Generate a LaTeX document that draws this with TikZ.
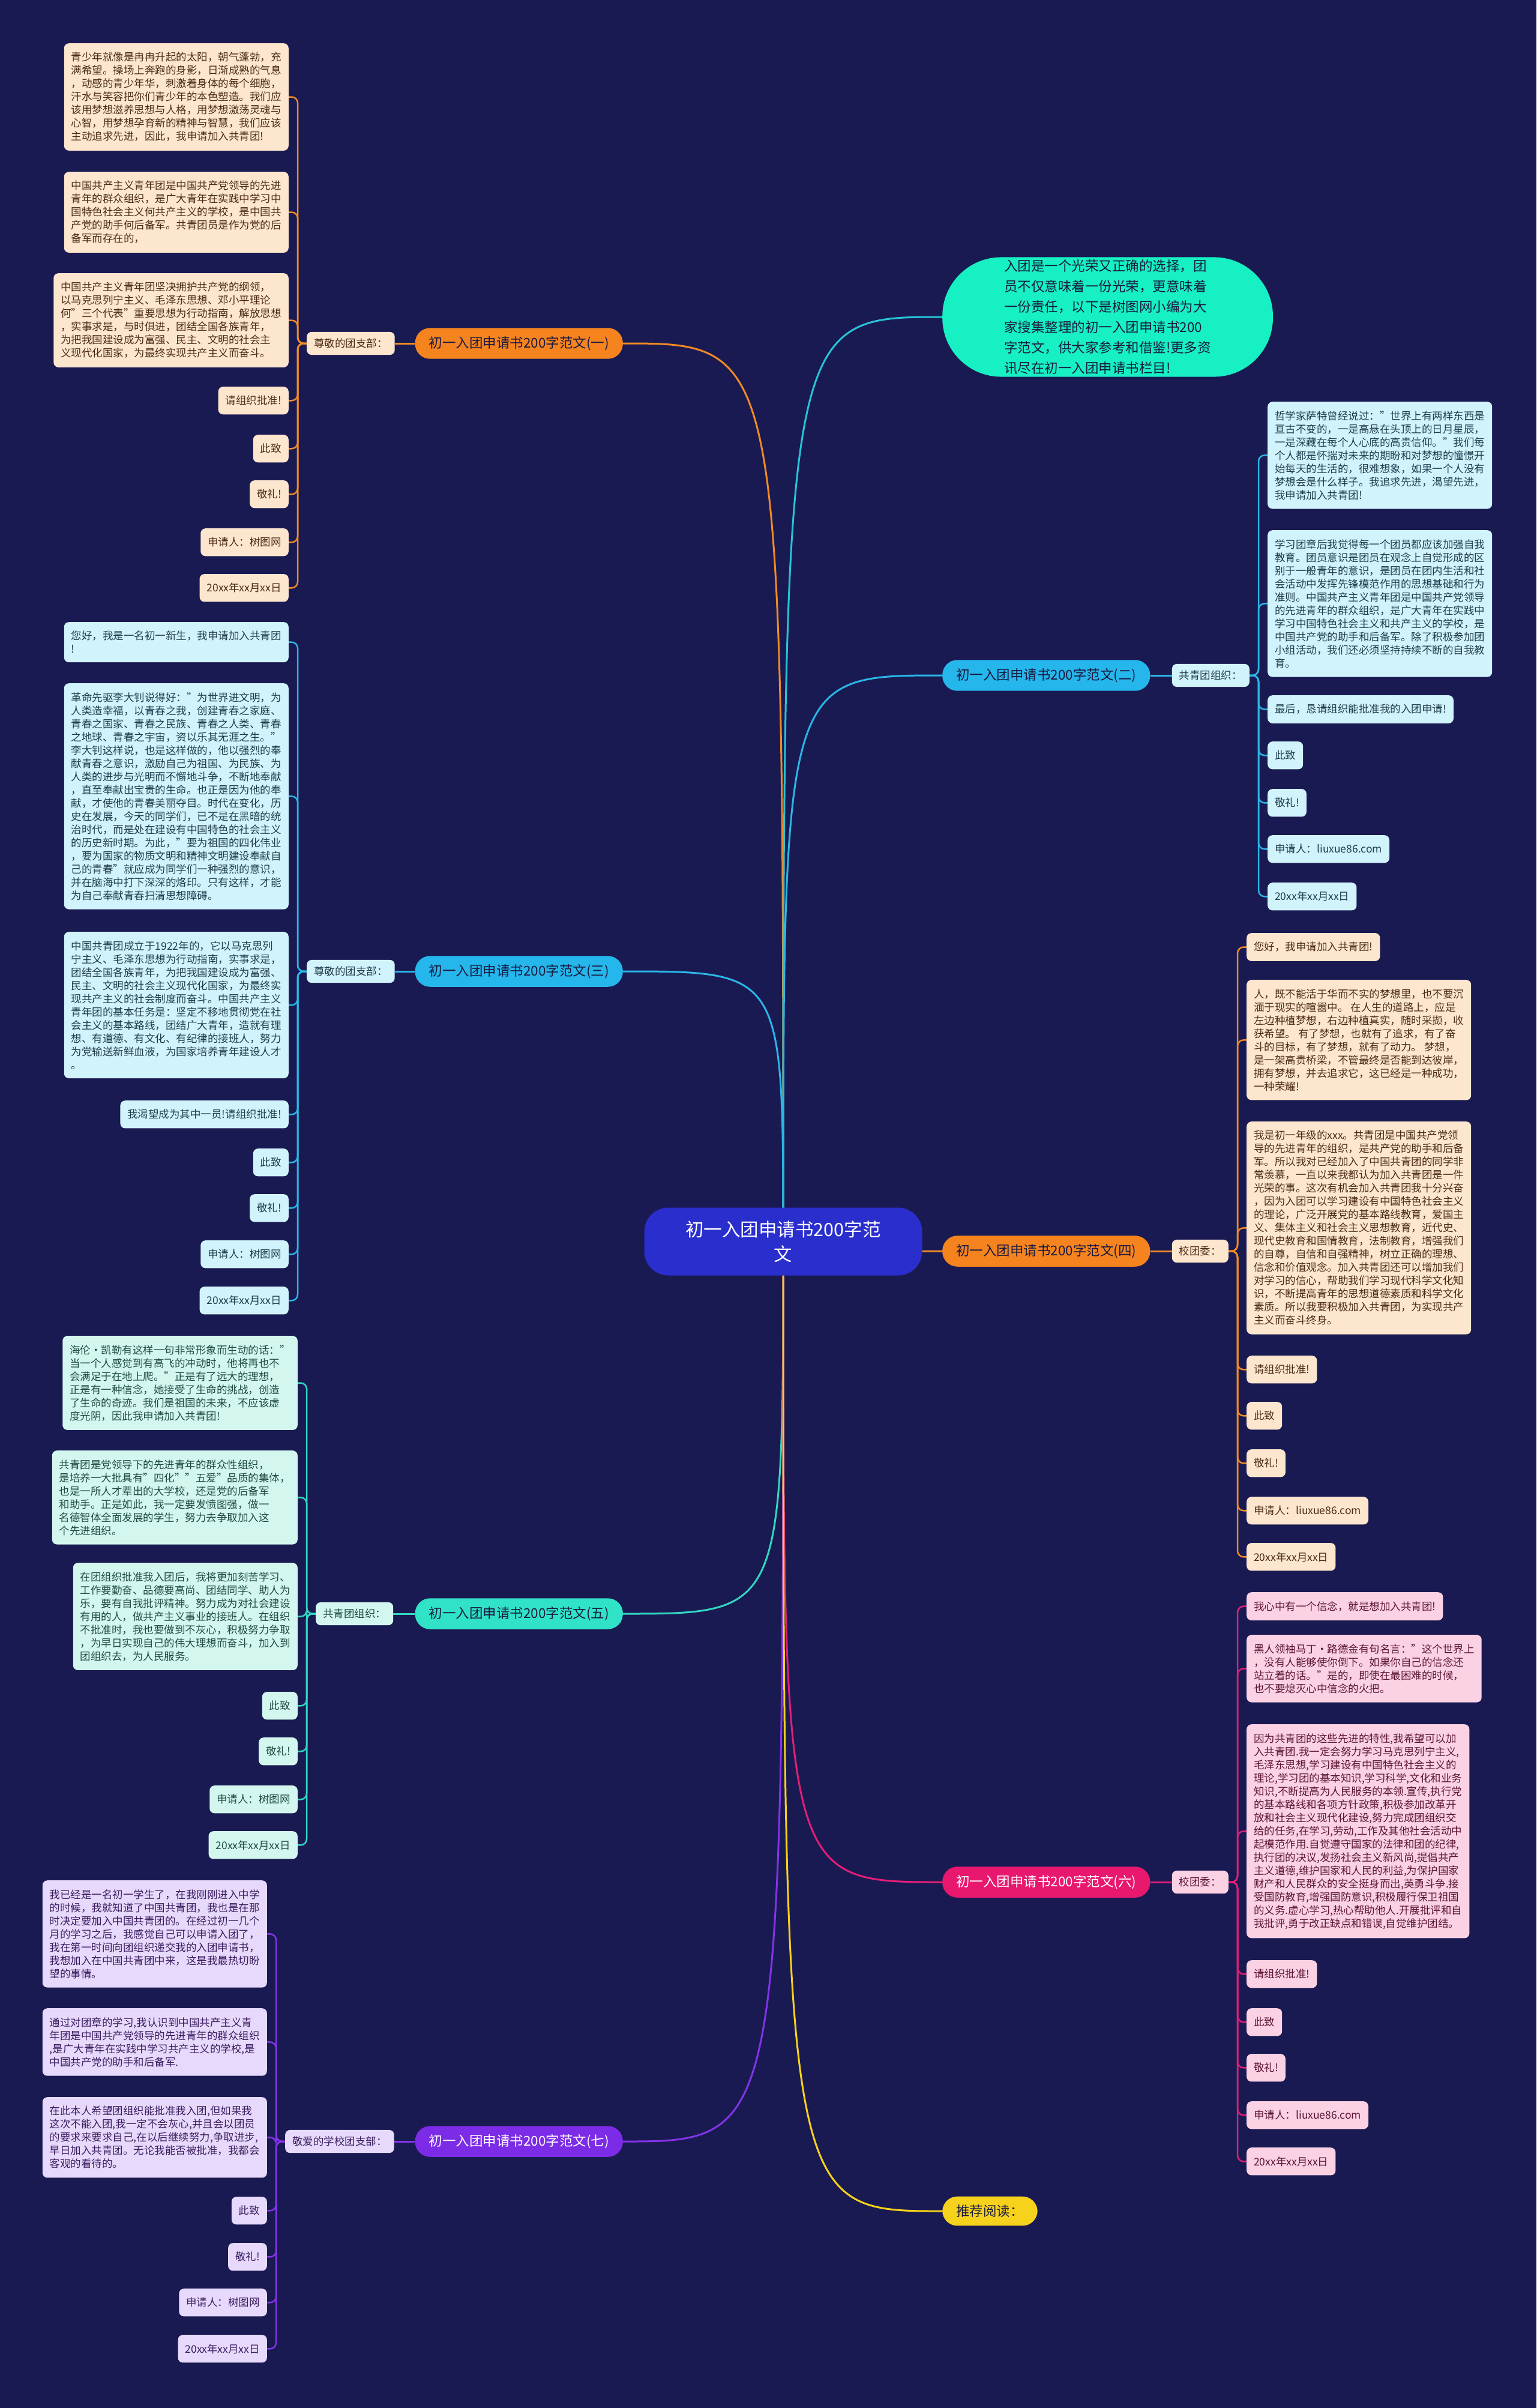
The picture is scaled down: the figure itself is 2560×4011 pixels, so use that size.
\documentclass[tikz,border=0pt]{standalone}
\usepackage{fontspec}
\setmainfont{Noto Sans CJK SC}

\definecolor{bgc}{HTML}{1A1A52}
\definecolor{rootc}{HTML}{2A2ECC}
\definecolor{darkT}{HTML}{1A1A40}
\definecolor{ora}{HTML}{F5841F}
\definecolor{oraW}{HTML}{F08A24}
\definecolor{oraL}{HTML}{FDE6CE}
\definecolor{oraT}{HTML}{4A2A12}
\definecolor{cya}{HTML}{25B6EC}
\definecolor{cyaW}{HTML}{2AB6E6}
\definecolor{cyaL}{HTML}{D1F3FC}
\definecolor{cyaT}{HTML}{1E3C4C}
\definecolor{aqu}{HTML}{30E3C6}
\definecolor{aquW}{HTML}{32D6C2}
\definecolor{aquL}{HTML}{D3F7EF}
\definecolor{aquT}{HTML}{1E4A42}
\definecolor{pur}{HTML}{7C2BE6}
\definecolor{purW}{HTML}{8433E8}
\definecolor{purL}{HTML}{E6D9FB}
\definecolor{purT}{HTML}{3C1E60}
\definecolor{mag}{HTML}{E8186F}
\definecolor{magW}{HTML}{E21E78}
\definecolor{magL}{HTML}{FBD1E4}
\definecolor{magT}{HTML}{5A1434}
\definecolor{yel}{HTML}{F6D21C}
\definecolor{teal}{HTML}{17F0C2}
\definecolor{tealW}{HTML}{27C4D6}

\newcommand\leaffont{\fontsize{17.5}{22}\selectfont}
\newcommand\branchfont{\fontsize{22.5}{28}\selectfont}
\newcommand\rootfont{\fontsize{30.5}{41}\selectfont}
\newcommand\introfont{\fontsize{22.5}{34}\selectfont}

\pgfdeclarelayer{back}
\pgfdeclarelayer{wires}
\pgfsetlayers{back,wires,main}

\begin{document}
\begin{tikzpicture}[x=1pt, y=-1pt,
  leaf/.style={rounded corners=8pt, inner xsep=12pt, inner ysep=15pt, align=left, font=\leaffont},
  lp/.style={leaf, anchor=north east},
  rp/.style={leaf, anchor=north west},
  tag/.style={leaf, inner ysep=11pt},
  branch/.style={rounded corners=25pt, inner xsep=23pt, inner ysep=14pt, font=\branchfont},
  stem/.style={line width=3pt},
  twig/.style={line width=2.5pt, rounded corners=10pt},
  g1/.style={fill=oraL, text=oraT},
  g2/.style={fill=cyaL, text=cyaT},
  g5/.style={fill=aquL, text=aquT},
  g6/.style={fill=magL, text=magT},
  g7/.style={fill=purL, text=purT}]
  \useasboundingbox (0,0) rectangle (2560,4011);
  \begin{pgfonlayer}{back}
    \fill[bgc] (0,0) rectangle (2560,4011);
  \end{pgfonlayer}

  \node[fill=rootc, text=white, rounded corners=40pt, minimum width=463pt, minimum height=113pt, align=center, font=\rootfont] (root) at (1305,2068) {初一入团申请书200字范\\文};

  \node[fill=teal, text=darkT, rounded corners=98pt, inner xsep=103pt, inner ysep=4pt, align=left, font=\introfont, anchor=west] (intro) at (1570,528) {入团是一个光荣又正确的选择，团\\员不仅意味着一份光荣，更意味着\\一份责任，以下是树图网小编为大\\家搜集整理的初一入团申请书200\\字范文，供大家参考和借鉴!更多资\\讯尽在初一入团申请书栏目!};

  % left side
  \node[branch, fill=ora, text=darkT, anchor=east] (br1) at (1038,572) {初一入团申请书200字范文(一)};
  \node[tag, g1, anchor=west] (lb1) at (511,572) {尊敬的团支部：};
  \node[lp, g1] (p1-1) at (481,72) {青少年就像是冉冉升起的太阳，朝气蓬勃，充\\满希望。操场上奔跑的身影，日渐成熟的气息\\，动感的青少年华，刺激着身体的每个细胞，\\汗水与笑容把你们青少年的本色塑造。我们应\\该用梦想滋养思想与人格，用梦想激荡灵魂与\\心智，用梦想孕育新的精神与智慧，我们应该\\主动追求先进，因此，我申请加入共青团!};
  \node[lp, g1] (p1-2) at (481,286) {中国共产主义青年团是中国共产党领导的先进\\青年的群众组织，是广大青年在实践中学习中\\国特色社会主义何共产主义的学校，是中国共\\产党的助手何后备军。共青团员是作为党的后\\备军而存在的，};
  \node[lp, g1] (p1-3) at (481,455) {中国共产主义青年团坚决拥护共产党的纲领，\\以马克思列宁主义、毛泽东思想、邓小平理论\\何"三个代表"重要思想为行动指南，解放思想\\，实事求是，与时俱进，团结全国各族青年，\\为把我国建设成为富强、民主、文明的社会主\\义现代化国家，为最终实现共产主义而奋斗。};
  \node[lp, g1] (p1-4) at (481,644) {请组织批准!};
  \node[lp, g1] (p1-5) at (481,724) {此致};
  \node[lp, g1] (p1-6) at (481,800) {敬礼!};
  \node[lp, g1] (p1-7) at (481,880) {申请人：树图网};
  \node[lp, g1] (p1-8) at (481,956) {20xx年xx月xx日};

  \node[branch, fill=cya, text=darkT, anchor=east] (br3) at (1038,1618) {初一入团申请书200字范文(三)};
  \node[tag, g2, anchor=west] (lb3) at (511,1618) {尊敬的团支部：};
  \node[lp, g2] (p3-1) at (481,1036) {您好，我是一名初一新生，我申请加入共青团\\!};
  \node[lp, g2] (p3-2) at (481,1138) {革命先驱李大钊说得好："为世界进文明，为\\人类造幸福，以青春之我，创建青春之家庭、\\青春之国家、青春之民族、青春之人类、青春\\之地球、青春之宇宙，资以乐其无涯之生。"\\李大钊这样说，也是这样做的，他以强烈的奉\\献青春之意识，激励自己为祖国、为民族、为\\人类的进步与光明而不懈地斗争，不断地奉献\\，直至奉献出宝贵的生命。也正是因为他的奉\\献，才使他的青春美丽夺目。时代在变化，历\\史在发展，今天的同学们，已不是在黑暗的统\\治时代，而是处在建设有中国特色的社会主义\\的历史新时期。为此，"要为祖国的四化伟业\\，要为国家的物质文明和精神文明建设奉献自\\己的青春"就应成为同学们一种强烈的意识，\\并在脑海中打下深深的烙印。只有这样，才能\\为自己奉献青春扫清思想障碍。};
  \node[lp, g2] (p3-3) at (481,1552) {中国共青团成立于1922年的，它以马克思列\\宁主义、毛泽东思想为行动指南，实事求是，\\团结全国各族青年，为把我国建设成为富强、\\民主、文明的社会主义现代化国家，为最终实\\现共产主义的社会制度而奋斗。中国共产主义\\青年团的基本任务是：坚定不移地贯彻党在社\\会主义的基本路线，团结广大青年，造就有理\\想、有道德、有文化、有纪律的接班人，努力\\为党输送新鲜血液，为国家培养青年建设人才\\。};
  \node[lp, g2] (p3-4) at (481,1833) {我渴望成为其中一员!请组织批准!};
  \node[lp, g2] (p3-5) at (481,1913) {此致};
  \node[lp, g2] (p3-6) at (481,1989) {敬礼!};
  \node[lp, g2] (p3-7) at (481,2066) {申请人：树图网};
  \node[lp, g2] (p3-8) at (481,2143) {20xx年xx月xx日};

  \node[branch, fill=aqu, text=darkT, anchor=east] (br5) at (1038,2688) {初一入团申请书200字范文(五)};
  \node[tag, g5, anchor=west] (lb5) at (526,2688) {共青团组织：};
  \node[lp, g5] (p5-1) at (496,2225) {海伦·凯勒有这样一句非常形象而生动的话："\\当一个人感觉到有高飞的冲动时，他将再也不\\会满足于在地上爬。"正是有了远大的理想，\\正是有一种信念，她接受了生命的挑战，创造\\了生命的奇迹。我们是祖国的未来，不应该虚\\度光阴，因此我申请加入共青团!};
  \node[lp, g5] (p5-2) at (496,2416) {共青团是党领导下的先进青年的群众性组织，\\是培养一大批具有"四化""五爱"品质的集体，\\也是一所人才辈出的大学校，还是党的后备军\\和助手。正是如此，我一定要发愤图强，做一\\名德智体全面发展的学生，努力去争取加入这\\个先进组织。};
  \node[lp, g5] (p5-3) at (496,2603) {在团组织批准我入团后，我将更加刻苦学习、\\工作要勤奋、品德要高尚、团结同学、助人为\\乐，要有自我批评精神。努力成为对社会建设\\有用的人，做共产主义事业的接班人。在组织\\不批准时，我也要做到不灰心，积极努力争取\\，为早日实现自己的伟大理想而奋斗，加入到\\团组织去，为人民服务。};
  \node[lp, g5] (p5-4) at (496,2818) {此致};
  \node[lp, g5] (p5-5) at (496,2894) {敬礼!};
  \node[lp, g5] (p5-6) at (496,2974) {申请人：树图网};
  \node[lp, g5] (p5-7) at (496,3050) {20xx年xx月xx日};

  \node[branch, fill=pur, text=white, anchor=east] (br7) at (1038,3567) {初一入团申请书200字范文(七)};
  \node[tag, g7, anchor=west] (lb7) at (475,3567) {敬爱的学校团支部：};
  \node[lp, g7] (p7-1) at (445,3132) {我已经是一名初一学生了，在我刚刚进入中学\\的时候，我就知道了中国共青团，我也是在那\\时决定要加入中国共青团的。在经过初一几个\\月的学习之后，我感觉自己可以申请入团了，\\我在第一时间向团组织递交我的入团申请书，\\我想加入在中国共青团中来，这是我最热切盼\\望的事情。};
  \node[lp, g7] (p7-2) at (445,3345) {通过对团章的学习,我认识到中国共产主义青\\年团是中国共产党领导的先进青年的群众组织\\,是广大青年在实践中学习共产主义的学校,是\\中国共产党的助手和后备军.};
  \node[lp, g7] (p7-3) at (445,3493) {在此本人希望团组织能批准我入团,但如果我\\这次不能入团,我一定不会灰心,并且会以团员\\的要求来要求自己,在以后继续努力,争取进步,\\早日加入共青团。无论我能否被批准，我都会\\客观的看待的。};
  \node[lp, g7] (p7-4) at (445,3659) {此致};
  \node[lp, g7] (p7-5) at (445,3736) {敬礼!};
  \node[lp, g7] (p7-6) at (445,3812) {申请人：树图网};
  \node[lp, g7] (p7-7) at (445,3889) {20xx年xx月xx日};

  % right side
  \node[branch, fill=cya, text=darkT, anchor=west] (br2) at (1570,1125) {初一入团申请书200字范文(二)};
  \node[tag, g2, anchor=east] (lb2) at (2082,1125) {共青团组织：};
  \node[rp, g2] (p2-1) at (2112,669) {哲学家萨特曾经说过："世界上有两样东西是\\亘古不变的，一是高悬在头顶上的日月星辰，\\一是深藏在每个人心底的高贵信仰。"我们每\\个人都是怀揣对未来的期盼和对梦想的憧憬开\\始每天的生活的，很难想象，如果一个人没有\\梦想会是什么样子。我追求先进，渴望先进，\\我申请加入共青团!};
  \node[rp, g2] (p2-2) at (2112,883) {学习团章后我觉得每一个团员都应该加强自我\\教育。团员意识是团员在观念上自觉形成的区\\别于一般青年的意识，是团员在团内生活和社\\会活动中发挥先锋模范作用的思想基础和行为\\准则。中国共产主义青年团是中国共产党领导\\的先进青年的群众组织，是广大青年在实践中\\学习中国特色社会主义和共产主义的学校，是\\中国共产党的助手和后备军。除了积极参加团\\小组活动，我们还必须坚持持续不断的自我教\\育。};
  \node[rp, g2] (p2-3) at (2112,1158) {最后，恳请组织能批准我的入团申请!};
  \node[rp, g2] (p2-4) at (2112,1235) {此致};
  \node[rp, g2] (p2-5) at (2112,1314) {敬礼!};
  \node[rp, g2] (p2-6) at (2112,1391) {申请人：liuxue86.com};
  \node[rp, g2] (p2-7) at (2112,1470) {20xx年xx月xx日};

  \node[branch, fill=ora, text=darkT, anchor=west] (br4) at (1570,2084) {初一入团申请书200字范文(四)};
  \node[tag, g1, anchor=east] (lb4) at (2047,2084) {校团委：};
  \node[rp, g1] (p4-1) at (2077,1554) {您好，我申请加入共青团!};
  \node[rp, g1] (p4-2) at (2077,1632) {人，既不能活于华而不实的梦想里，也不要沉\\湎于现实的喧嚣中。 在人生的道路上，应是\\左边种植梦想，右边种植真实，随时采撷，收\\获希望。 有了梦想，也就有了追求，有了奋\\斗的目标，有了梦想，就有了动力。 梦想，\\是一架高贵桥梁，不管最终是否能到达彼岸，\\拥有梦想，并去追求它，这已经是一种成功，\\一种荣耀!};
  \node[rp, g1] (p4-3) at (2077,1868) {我是初一年级的xxx。共青团是中国共产党领\\导的先进青年的组织，是共产党的助手和后备\\军。所以我对已经加入了中国共青团的同学非\\常羡慕，一直以来我都认为加入共青团是一件\\光荣的事。这次有机会加入共青团我十分兴奋\\，因为入团可以学习建设有中国特色社会主义\\的理论，广泛开展党的基本路线教育，爱国主\\义、集体主义和社会主义思想教育，近代史、\\现代史教育和国情教育，法制教育，增强我们\\的自尊，自信和自强精神，树立正确的理想、\\信念和价值观念。加入共青团还可以增加我们\\对学习的信心，帮助我们学习现代科学文化知\\识，不断提高青年的思想道德素质和科学文化\\素质。所以我要积极加入共青团，为实现共产\\主义而奋斗终身。};
  \node[rp, g1] (p4-4) at (2077,2258) {请组织批准!};
  \node[rp, g1] (p4-5) at (2077,2335) {此致};
  \node[rp, g1] (p4-6) at (2077,2414) {敬礼!};
  \node[rp, g1] (p4-7) at (2077,2493) {申请人：liuxue86.com};
  \node[rp, g1] (p4-8) at (2077,2570) {20xx年xx月xx日};

  \node[branch, fill=mag, text=white, anchor=west] (br6) at (1570,3135) {初一入团申请书200字范文(六)};
  \node[tag, g6, anchor=east] (lb6) at (2047,3135) {校团委：};
  \node[rp, g6] (p6-1) at (2077,2652) {我心中有一个信念，就是想加入共青团!};
  \node[rp, g6] (p6-2) at (2077,2723) {黑人领袖马丁·路德金有句名言："这个世界上\\，没有人能够使你倒下。如果你自己的信念还\\站立着的话。"是的，即使在最困难的时候，\\也不要熄灭心中信念的火把。};
  \node[rp, g6] (p6-3) at (2077,2872) {因为共青团的这些先进的特性,我希望可以加\\入共青团.我一定会努力学习马克思列宁主义,\\毛泽东思想,学习建设有中国特色社会主义的\\理论,学习团的基本知识,学习科学,文化和业务\\知识,不断提高为人民服务的本领.宣传,执行党\\的基本路线和各项方针政策,积极参加改革开\\放和社会主义现代化建设,努力完成团组织交\\给的任务,在学习,劳动,工作及其他社会活动中\\起模范作用.自觉遵守国家的法律和团的纪律,\\执行团的决议,发扬社会主义新风尚,提倡共产\\主义道德,维护国家和人民的利益,为保护国家\\财产和人民群众的安全挺身而出,英勇斗争.接\\受国防教育,增强国防意识,积极履行保卫祖国\\的义务.虚心学习,热心帮助他人.开展批评和自\\我批评,勇于改正缺点和错误,自觉维护团结。};
  \node[rp, g6] (p6-4) at (2077,3265) {请组织批准!};
  \node[rp, g6] (p6-5) at (2077,3345) {此致};
  \node[rp, g6] (p6-6) at (2077,3421) {敬礼!};
  \node[rp, g6] (p6-7) at (2077,3500) {申请人：liuxue86.com};
  \node[rp, g6] (p6-8) at (2077,3577) {20xx年xx月xx日};

  \node[branch, fill=yel, text=darkT, anchor=west] (more) at (1570,3683) {推荐阅读：};

  \begin{pgfonlayer}{wires}
    \foreach \b/\c in {br1/oraW, br3/cyaW, br5/aquW, br7/purW}
      \draw[stem, \c] (root.center) .. controls (root.center |- \b.east) .. (\b.east);
    \foreach \b/\c in {intro/tealW, br2/cyaW, br4/oraW, br6/magW, more/yel}
      \draw[stem, \c] (root.center) .. controls (root.center |- \b.west) .. (\b.west);

    \foreach \n/\c in {1/oraW, 3/cyaW, 5/aquW, 7/purW}
      \draw[stem, \c] (br\n.west) -- (lb\n.east);
    \foreach \n/\c in {2/cyaW, 4/oraW, 6/magW}
      \draw[stem, \c] (br\n.east) -- (lb\n.west);

    \foreach \i in {1,...,8} \draw[twig, oraW] (lb1.west) -- ++(-15,0) |- (p1-\i.east);
    \foreach \i in {1,...,8} \draw[twig, cyaW] (lb3.west) -- ++(-15,0) |- (p3-\i.east);
    \foreach \i in {1,...,7} \draw[twig, aquW] (lb5.west) -- ++(-15,0) |- (p5-\i.east);
    \foreach \i in {1,...,7} \draw[twig, purW] (lb7.west) -- ++(-15,0) |- (p7-\i.east);
    \foreach \i in {1,...,7} \draw[twig, cyaW] (lb2.east) -- ++(15,0) |- (p2-\i.west);
    \foreach \i in {1,...,8} \draw[twig, oraW] (lb4.east) -- ++(15,0) |- (p4-\i.west);
    \foreach \i in {1,...,8} \draw[twig, magW] (lb6.east) -- ++(15,0) |- (p6-\i.west);
  \end{pgfonlayer}
\end{tikzpicture}
\end{document}
